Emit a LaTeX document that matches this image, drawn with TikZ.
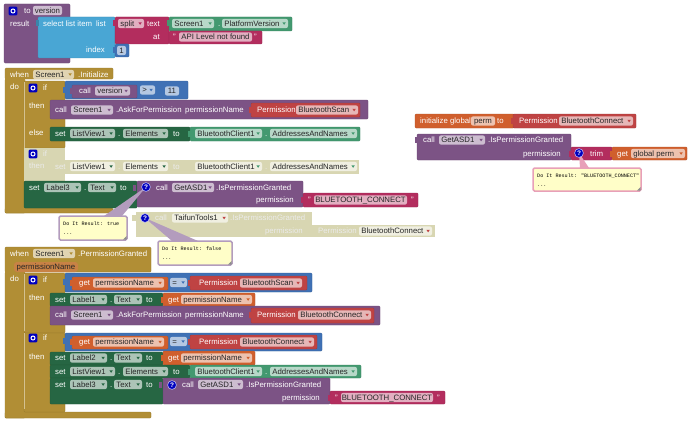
\documentclass[tikz,border=0pt]{standalone}
\usepackage{fontspec}
\setmainfont{Liberation Sans}
\newfontfamily\monof{Liberation Mono}
\definecolor{gold}{HTML}{B18E35}
\definecolor{purp}{HTML}{7C5385}
\definecolor{grn}{HTML}{266643}
\definecolor{blu}{HTML}{3F71B5}
\definecolor{lblu}{HTML}{49A6D4}
\definecolor{txtred}{HTML}{B32D5E}
\definecolor{perm}{HTML}{BF4343}
\definecolor{orng}{HTML}{D05F2D}
\definecolor{teal2}{HTML}{439970}
\definecolor{hatch}{HTML}{D8D6B2}
\definecolor{bubfill}{HTML}{FFFEC8}
\definecolor{bubpur}{HTML}{B39CBD}
\definecolor{bubpink}{HTML}{E8A0B8}
\newcount\nn
\newcommand{\Nd}[1][]{\global\advance\nn by 1 \node[#1] (n\the\nn)}
\tikzset{
  wtx/.style={text=white,yshift=-.7pt,font=\fontsize{7.8}{8}\selectfont,inner sep=0pt,text height=5.5pt,text depth=1.6pt},
  ftx/.style={text=black!85,yshift=-.7pt,font=\fontsize{7.8}{8}\selectfont,inner sep=0pt,text height=5.5pt,text depth=1.6pt},
  dtx/.style={text=white!92!black,yshift=-.7pt,font=\fontsize{7.8}{8}\selectfont,inner sep=0pt,text height=5.5pt,text depth=1.6pt},
  field/.style={fill=white,fill opacity=.62,rounded corners=2pt},
  bubtx/.style={text=black,font=\monof\fontsize{5.1}{6}\selectfont,inner sep=0pt,anchor=west},
  disab/.style={fill=hatch},
}
% block rectangle
\newcommand{\B}[5]{\fill[#5,draw=#5!85!black,line width=.35pt,rounded corners=1pt] (#1,#2) rectangle (#3,#4);}
% white text
\newcommand{\T}[3]{\Nd[wtx,anchor=west] at (#1,#2) {#3};}
% right aligned white text
\newcommand{\Tr}[3]{\Nd[wtx,anchor=east] at (#1,#2) {#3};}
% faded text of a disabled block
\newcommand{\Dt}[3]{\Nd[dtx,anchor=west] at (#1,#2) {#3};}
% field, no triangle
\newcommand{\Fn}[4]{\fill[field] (#1,#3-4.6) rectangle (#2,#3+4.6);
  \Nd[ftx] at ({(#1+#2)/2},#3) {#4};}
% field with triangle
\newcommand{\Fd}[5]{\fill[field] (#1,#3-4.6) rectangle (#2,#3+4.6);
  \Nd[ftx,anchor=west] at (#1+2.2,#3) {#4};
  \fill[#5] (#2-5.6,#3-1.2) -- (#2-2.2,#3-1.2) -- (#2-3.9,#3+1.4) -- cycle;}
% value tab
\newcommand{\Tab}[3]{\fill[#3] (#1-2.5,#2-3) rectangle (#1+.5,#2+3);}
% light edge of an if block
\newcommand{\Edge}[3]{\draw[gold!55!white,line width=.5pt] (#1,#2) -- (#1,#3);}
% icons
\newcommand{\IconG}[2]{\fill[blue!75!black,rounded corners=1pt] (#1-4.3,#2-4.3) rectangle (#1+4.3,#2+4.3);
  \draw[white,line width=1pt] (#1,#2) circle (2pt);}
\newcommand{\IconQ}[2]{\fill[blue!75!black,draw=white!80!blue,line width=.5pt] (#1,#2) circle (4.4pt);
  \Nd[text=white,inner sep=0pt,font=\bfseries\fontsize{6.5}{7}\selectfont] at (#1,#2) {?};}
% comment bubble: pointer first, then box
\newcommand{\Ptr}[5]{\fill[#5] (#1,#3) -- (#4) -- (#2,#3) -- cycle;}
\newcommand{\Bub}[6]{% x1 y1 x2 y2 colour line1
  \fill[bubfill,draw=#5,line width=1.5pt,rounded corners=1.5pt] (#1,#2) rectangle (#3,#4);
  \Nd[bubtx] at (#1+4,#2+8) {#6};
  \Nd[bubtx] at (#1+4,#2+18) {...};
  \fill[black!45] (#3-.5,#4-4) -- (#3-.5,#4-.5) -- (#3-4,#4-.5) -- cycle;}
\begin{document}
\begin{tikzpicture}[x=1pt,y=-1pt]
\useasboundingbox (0,0) rectangle (690,420);
\fill[white] (0,0) rectangle (690,420);

%%% to version
\B{4}{4}{70}{63}{purp}
\IconG{13}{11}
\T{24}{10.5}{to}
\Fn{33}{62}{10.5}{version}
\T{10}{24}{result}
\B{38}{17}{115}{58}{lblu}
\Tab{38}{23}{lblu!80!black}
\T{43}{23.5}{select list item}
\T{96}{23.5}{list}
\T{86}{50}{index}
\B{115}{17}{169}{44}{txtred}
\Tab{115}{23}{txtred}
\Fd{118}{144}{23.5}{split}{txtred}
\T{147}{23.5}{text}
\T{153}{37}{at}
\B{169}{17}{292}{31}{teal2}
\Tab{169}{23}{teal2}
\Fd{172}{214}{23.5}{Screen1}{teal2}
\T{218}{23.5}{.}
\Fd{222}{288}{23.5}{PlatformVersion}{teal2}
\B{169}{31}{262}{44}{txtred}
\T{173}{37}{"}
\Fn{179}{252}{37}{API Level not found}
\T{254}{37}{"}
\B{115}{44}{129}{57}{blu}
\Tab{115}{50}{blu}
\Fn{117}{126}{50.5}{1}

%%% when Screen1.Initialize
\B{5}{68}{113}{79}{gold}
\B{5}{79}{25}{213}{gold}
\B{5}{208}{113}{213}{gold}
\fill[gold] (5.3,70) rectangle (25,212);
\T{10}{74.5}{when}
\Fd{33}{74}{74.5}{Screen1}{gold}
\T{78}{74.5}{.Initialize}
\T{10}{87}{do}
% if 1
\B{24}{81}{65}{148}{gold}
\Edge{24.5}{82}{148}
\IconG{33}{88}
\T{43}{88}{if}
\T{29}{106}{then}
\T{29}{133}{else}
\B{65}{81}{188}{99}{blu}
\Tab{65}{90}{blu}
\B{72}{85}{137}{98}{purp}
\Tab{72}{91}{purp}
\T{79}{91}{call}
\Fd{95}{130}{91}{version}{purp}
\Fd{140}{155}{90}{>}{blu}
\Fn{165}{179}{91}{11}
\B{50}{100}{368}{119}{purp}
\T{55}{110}{call}
\Fd{71}{113}{110}{Screen1}{purp}
\T{116}{110}{.AskForPermission}
\T{185}{110}{permissionName}
\B{251}{103}{360}{117}{perm}
\Tab{251}{110}{perm}
\T{257}{110}{Permission}
\Fd{296}{358}{110}{BluetoothScan}{perm}
\B{50}{127}{190}{141}{grn}
\T{55}{133.5}{set}
\Fd{70}{115}{133.5}{ListView1}{grn}
\T{118}{133.5}{.}
\Fd{123}{168}{133.5}{Elements}{grn}
\T{173}{133.5}{to}
\B{190}{127}{360}{141}{teal2}
\Tab{190}{133.5}{teal2}
\Fd{195}{262}{133.5}{BluetoothClient1}{teal2}
\T{265}{133.5}{.}
\Fd{270}{357}{133.5}{AddressesAndNames}{teal2}
% disabled if
\path[disab] (24,148) rectangle (65,181);
\path[disab] (50,160) rectangle (359,174);
\IconG{33}{154}
\Dt{43}{154}{if}
\Dt{29}{166}{then}
\Dt{55}{166.5}{set}
\Fd{70}{115}{166.5}{ListView1}{grn}
\Dt{118}{166.5}{.}
\Fd{123}{168}{166.5}{Elements}{grn}
\Dt{173}{166.5}{to}
\Fd{195}{262}{166.5}{BluetoothClient1}{teal2}
\Dt{265}{166.5}{.}
\Fd{270}{357}{166.5}{AddressesAndNames}{teal2}
% set Label3
\B{24}{181}{137}{208}{grn}
\T{29}{187.5}{set}
\Fd{44}{81}{187.5}{Label3}{grn}
\T{84}{187.5}{.}
\Fd{88}{116}{187.5}{Text}{grn}
\T{120}{187.5}{to}
\B{137}{181}{303}{207}{purp}
\Tab{135}{187.5}{purp}
\T{156}{187.5}{call}
\Fd{172}{214}{187.5}{GetASD1}{purp}
\T{216}{187.5}{.IsPermissionGranted}
\Tr{294}{200}{permission}
\B{303}{193}{418}{207}{txtred}
\Tab{303}{200}{txtred}
\T{308}{200}{"}
\Fn{314}{407}{200}{BLUETOOTH\_CONNECT}
\T{411}{200}{"}
% disabled taifun
\path[disab] (136,212) rectangle (312,237);
\path[disab] (312,225) rectangle (435,237);
\path[disab] (132,215) rectangle (136,221);
\Dt{155}{218}{call}
\Fd{172}{228}{218}{TaifunTools1}{perm}
\Dt{230}{218}{.IsPermissionGranted}
\Nd[dtx,anchor=east] at (303,231) {permission};
\Dt{318}{231}{Permission}
\Fd{359}{432}{231}{BluetoothConnect}{perm}
% bubbles
\coordinate (q1) at (146,187);
\coordinate (q2) at (145,218);
\coordinate (q3) at (579,153);
\Ptr{104}{122}{216}{q1}{bubpur}
\IconQ{146}{187}
\Bub{59}{216}{127}{240}{bubpur}{Do It Result: true}
\Ptr{172}{198}{241}{q2}{bubpur}
\IconQ{145}{218}
\Bub{158}{241}{232}{265}{bubpur}{Do It Result: false}

%%% right group
\B{415}{114}{514}{128}{orng}
\T{420}{121}{initialize global}
\Fn{471}{495}{121}{perm}
\T{497}{121}{to}
\B{513}{114}{636}{128}{perm}
\Tab{513}{121}{perm}
\T{519}{121}{Permission}
\Fd{559}{633}{121}{BluetoothConnect}{perm}
\B{417}{134}{571}{160}{purp}
\Tab{417}{140}{purp}
\T{423}{140}{call}
\Fd{439}{485}{140}{GetASD1}{purp}
\T{488}{140}{.IsPermissionGranted}
\Tr{561}{153.5}{permission}
\B{571}{147}{612}{160}{txtred}
\Tab{571}{153.5}{txtred}
\T{590}{153.5}{trim}
\B{612}{147}{687}{160}{orng}
\Tab{612}{153.5}{orng}
\T{617}{153.5}{get}
\Fd{631}{685}{153.5}{global perm}{orng}
\Ptr{580}{589}{168}{q3}{bubpink}
\IconQ{579}{153}
\Bub{533}{168}{641}{191}{bubpink}{Do It Result: "BLUETOOTH\_CONNECT"}

%%% when Screen1.PermissionGranted
\B{5}{247}{151}{272}{gold}
\B{5}{272}{25}{418}{gold}
\B{5}{412}{151}{418}{gold}
\fill[gold] (5.3,249) rectangle (25,417);
\T{10}{253.5}{when}
\Fd{33}{75}{253.5}{Screen1}{gold}
\T{78}{253.5}{.PermissionGranted}
\fill[orng!55!gold!90!white,rounded corners=3pt] (14,262) rectangle (78,272);
\Nd[ftx] at (46,267) {permissionName};
\T{10}{279}{do}
% if A
\B{24}{273}{65}{333}{gold}
\Edge{24.5}{274}{331}
\IconG{33}{280}
\T{43}{280}{if}
\T{29}{298}{then}
\B{65}{273}{312}{292}{blu}
\Tab{65}{282}{blu}
\B{72}{277}{168}{290}{orng}
\Tab{72}{283}{orng}
\T{79}{283}{get}
\Fd{93}{164}{283}{permissionName}{orng}
\Fd{170}{187}{282.5}{=}{blu}
\B{190}{276}{307}{290}{perm}
\Tab{190}{283}{perm}
\T{199}{283}{Permission}
\Fd{240}{302}{283}{BluetoothScan}{perm}
\B{50}{293}{163}{306}{grn}
\T{55}{299.5}{set}
\Fd{70}{107}{299.5}{Label1}{grn}
\T{110}{299.5}{.}
\Fd{114}{142}{299.5}{Text}{grn}
\T{146}{299.5}{to}
\B{163}{293}{255}{306}{orng}
\Tab{163}{299.5}{orng}
\T{168}{299.5}{get}
\Fd{181}{252}{299.5}{permissionName}{orng}
\B{50}{306}{380}{325}{purp}
\T{55}{315}{call}
\Fd{71}{113}{315}{Screen1}{purp}
\T{116}{315}{.AskForPermission}
\T{185}{315}{permissionName}
\B{251}{308}{374}{323}{perm}
\Tab{251}{315}{perm}
\T{257}{315}{Permission}
\Fd{298}{371}{315}{BluetoothConnect}{perm}
% if B
\B{24}{333}{65}{412}{gold}
\Edge{24.5}{333}{409}
\IconG{33}{338}
\T{43}{338}{if}
\T{29}{357}{then}
\B{65}{333}{322}{351}{blu}
\Tab{65}{341}{blu}
\B{72}{336}{168}{349}{orng}
\Tab{72}{342}{orng}
\T{79}{342}{get}
\Fd{93}{164}{342}{permissionName}{orng}
\Fd{170}{187}{341.5}{=}{blu}
\B{190}{335}{317}{349}{perm}
\Tab{190}{342}{perm}
\T{199}{342}{Permission}
\Fd{240}{314}{342}{BluetoothConnect}{perm}
\B{50}{352}{163}{365}{grn}
\T{55}{358}{set}
\Fd{70}{107}{358}{Label2}{grn}
\T{110}{358}{.}
\Fd{114}{142}{358}{Text}{grn}
\T{146}{358}{to}
\B{163}{351}{255}{365}{orng}
\Tab{163}{358}{orng}
\T{168}{358}{get}
\Fd{181}{252}{358}{permissionName}{orng}
\B{50}{365}{190}{378}{grn}
\T{55}{371.5}{set}
\Fd{70}{115}{371.5}{ListView1}{grn}
\T{118}{371.5}{.}
\Fd{123}{168}{371.5}{Elements}{grn}
\T{173}{371.5}{to}
\B{190}{365}{361}{378}{teal2}
\Tab{190}{371.5}{teal2}
\Fd{195}{262}{371.5}{BluetoothClient1}{teal2}
\T{265}{371.5}{.}
\Fd{270}{357}{371.5}{AddressesAndNames}{teal2}
\B{50}{378}{163}{404}{grn}
\T{55}{384.5}{set}
\Fd{70}{107}{384.5}{Label3}{grn}
\T{110}{384.5}{.}
\Fd{114}{142}{384.5}{Text}{grn}
\T{146}{384.5}{to}
\B{163}{378}{330}{404}{purp}
\Tab{161}{384.5}{purp}
\IconQ{172}{385}
\T{182}{384.5}{call}
\Fd{198}{243}{384.5}{GetASD1}{purp}
\T{246}{384.5}{.IsPermissionGranted}
\Tr{320}{397.5}{permission}
\B{330}{391}{445}{404}{txtred}
\Tab{330}{397.5}{txtred}
\T{335}{397.5}{"}
\Fn{341}{433}{397.5}{BLUETOOTH\_CONNECT}
\T{437}{397.5}{"}
\end{tikzpicture}
\end{document}
